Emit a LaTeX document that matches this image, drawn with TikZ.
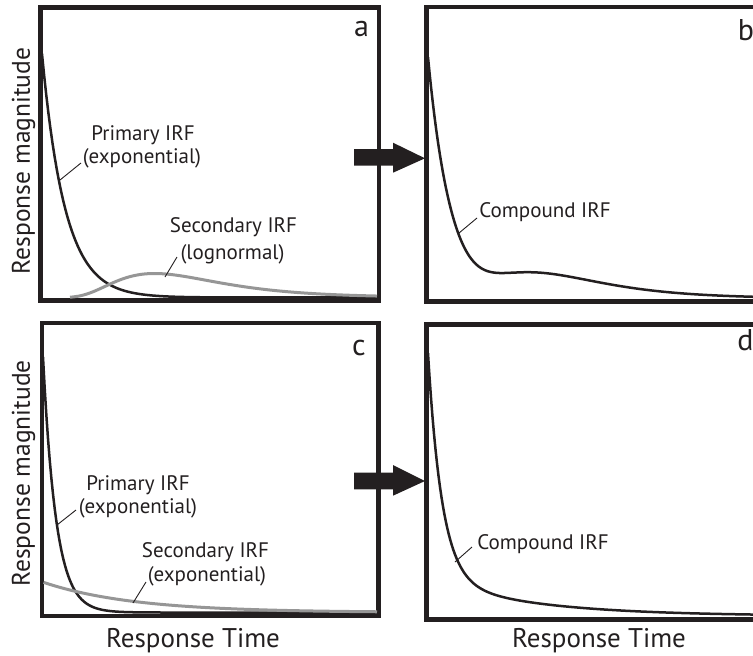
\documentclass[tikz,border=0pt]{standalone}
\usepackage{fontspec}
\setmainfont{PT Sans}
\definecolor{ink}{RGB}{35,31,32}
\definecolor{greyc}{RGB}{150,150,150}
\begin{document}
\begin{tikzpicture}[x=1pt,y=-1pt,
  frame/.style={draw=ink, line width=4.2pt},
  blackcurve/.style={draw=ink, line width=2.5pt, line join=round},
  greycurve/.style={draw=greyc, line width=3pt, line join=round},
  leader/.style={draw=ink, line width=0.9pt},
  lbl/.style={font=\fontsize{21}{24}\selectfont, inner sep=0pt, anchor=base, text=ink},
  letter/.style={font=\fontsize{30}{34}\selectfont, inner sep=0pt, anchor=base, text=ink},
  axislbl/.style={font=\fontsize{25.5}{30}\selectfont, inner sep=0pt, anchor=base, text=ink},
  timelbl/.style={font=\fontsize{27}{32}\selectfont, inner sep=0pt, anchor=base, text=ink},
  bigarrow/.style={fill=ink}]
\path[use as bounding box] (0,0) rectangle (753,656);
\clip (0,0) rectangle (753,656);

% frames
\draw[frame] (40.5,7.5) rectangle (378.7,300.5);
\draw[frame] (426.5,7) rectangle (764,301.5);
\draw[frame] (41.7,323) rectangle (378.5,616);
\draw[frame] (426.5,324.5) rectangle (764,619.5);

% arrows
\fill[bigarrow] (354,149) -- (393,149) -- (393,142.7) -- (425,158.3) -- (393,172.7) -- (393,165.7) -- (354,165.7) -- cycle;
\fill[bigarrow] (354,472.7) -- (393,472.7) -- (393,465) -- (425,481) -- (393,495.7) -- (393,489.3) -- (354,489.3) -- cycle;

% panel a curves
\draw[blackcurve] plot[domain=42:377, samples=160] (\x, {297.5 - 254.5*exp(-(\x-41)/23)});
\draw[greycurve] plot[domain=70:377, samples=120] (\x, {297.5 - 24*exp(-min(20,ln((\x-40.5)/114)*ln((\x-40.5)/114)/0.42))});

% panel b curve
\draw[blackcurve] plot[domain=428:753, samples=200] (\x, {298.5 - 252*exp(-(\x-427)/23) - 24*exp(-min(20,ln((\x-427)/114)*ln((\x-427)/114)/0.42))});

% panel c curves
\draw[blackcurve] plot[domain=43:377, samples=200] (\x, {612.5 - 265.5*exp(-(\x-42.5)/13)});
\draw[greycurve] plot[domain=43.5:377, samples=80] (\x, {612.5 - 30.5*exp(-(\x-42.5)/90)});

% panel d curve
\draw[blackcurve] plot[domain=428:753, samples=220] (\x, {616 - 233*exp(-(\x-427.5)/14) - 38*exp(-(\x-427.5)/100)});

% labels panel a
\node[lbl] (pa1) at (143,140) {Primary IRF};
\node[lbl] (pa2) at (142,163) {(exponential)};
\coordinate (pa2l) at (81,163);
\coordinate (pa2c) at (60,180);
\draw[leader] (pa2l) -- (pa2c);
\node[lbl] (sa1) at (233.5,232.5) {Secondary IRF};
\node[lbl] (sa2) at (232.5,259) {(lognormal)};
\coordinate (sa2l) at (177,257);
\coordinate (sa2c) at (165,277);
\draw[leader] (sa2l) -- (sa2c);

% label panel b
\node[lbl] (cb) at (545,217.5) {Compound IRF};
\coordinate (cbl) at (477,218);
\coordinate (cbc) at (459,233);
\draw[leader] (cbl) -- (cbc);

% labels panel c
\node[lbl] (pc1) at (138,490.7) {Primary IRF};
\node[lbl] (pc2) at (138,513.3) {(exponential)};
\coordinate (pc2l) at (76,510);
\coordinate (pc2c) at (57,525);
\draw[leader] (pc2l) -- (pc2c);
\node[lbl] (sc1) at (205.5,557.5) {Secondary IRF};
\node[lbl] (sc2) at (207,581.5) {(exponential)};
\coordinate (sc2l) at (146,582);
\coordinate (sc2c) at (133,603);
\draw[leader] (sc2l) -- (sc2c);

% label panel d
\node[lbl] (cd) at (543,549) {Compound IRF};
\coordinate (cdl) at (472,547);
\coordinate (cdc) at (455,562);
\draw[leader] (cdl) -- (cdc);

% panel letters
\node[letter] (la) at (361.5,36) {a};
\node[letter] (lb) at (746,40) {b};
\node[letter] (lc) at (359,355) {c};
\node[letter] (ld) at (745.5,350) {d};

% axis labels
\node[axislbl, rotate=90] (yt) at (30,161) {Response magnitude};
\node[axislbl, rotate=90] (yb) at (30,473.5) {Response magnitude};
\node[timelbl] (xl) at (193,647.5) {Response Time};
\node[timelbl] (xr) at (599,647.5) {Response Time};
\end{tikzpicture}
\end{document}
